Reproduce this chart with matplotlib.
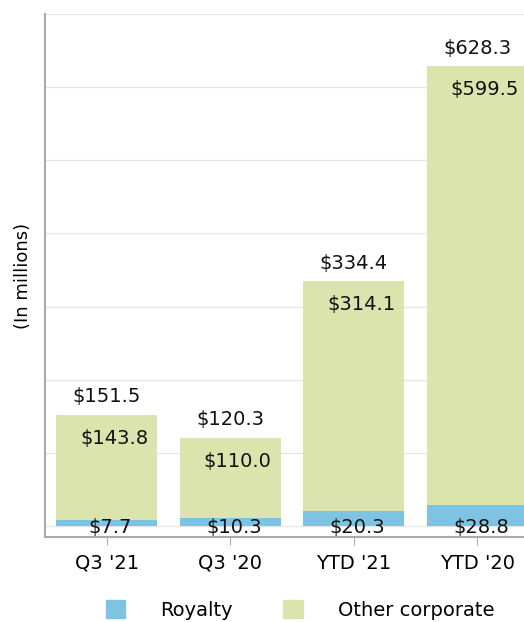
import matplotlib
matplotlib.use("Agg")
import matplotlib.pyplot as plt
from matplotlib.patches import Patch

categories = ["Q3 '21", "Q3 '20", "YTD '21", "YTD '20"]
royalty = [7.7, 10.3, 20.3, 28.8]
other_corporate = [143.8, 110.0, 314.1, 599.5]
totals = [151.5, 120.3, 334.4, 628.3]

blue = "#7ec4e2"
green = "#dce4ae"
FS = 14

fig = plt.figure(figsize=(5.24, 6.22), dpi=100)
W, H = 524, 622
left_px, right_px, top_px, bottom_px = 45, 539, 14, 537
ax = fig.add_axes([left_px / W, 1 - bottom_px / H, (right_px - left_px) / W, (bottom_px - top_px) / H])

x = list(range(len(categories)))
ax.bar(x, royalty, width=0.82, color=blue, zorder=2)
ax.bar(x, other_corporate, width=0.82, bottom=royalty, color=green, zorder=2)

for i in x:
    ax.text(i, totals[i] + 12, f"${totals[i]:.1f}", ha="center", va="bottom", fontsize=FS, color="#111")
    ax.text(i + 0.06, totals[i] - 19, f"${other_corporate[i]:.1f}", ha="center", va="top", fontsize=FS, color="#111")
    ax.text(i + 0.03, -2, f"${royalty[i]:.1f}", ha="center", va="center", fontsize=FS, color="#111")

ax.set_xlim(-0.5, 3.5)
ax.set_ylim(-15, 700)
ax.set_yticks(range(0, 701, 100))
ax.set_yticklabels([])
ax.tick_params(axis="y", length=0)
ax.grid(axis="y", color="#e6e6e6", linewidth=1, zorder=0)
ax.set_xticks(x)
ax.set_xticklabels(categories, fontsize=FS)
ax.tick_params(axis="x", length=6, color="#aaaaaa", pad=6)
for s in ["top", "right"]:
    ax.spines[s].set_visible(False)
for s in ["left", "bottom"]:
    ax.spines[s].set_color("#aaaaaa")
    ax.spines[s].set_linewidth(1.5)
ax.set_ylabel("(In millions)", fontsize=13, labelpad=6)

handles = [Patch(color=blue), Patch(color=green)]
fig.legend(handles, ["Royalty", "Other corporate"], loc="center", bbox_to_anchor=(300 / W, 1 - 610 / H),
           ncol=2, frameon=False, fontsize=FS, handlelength=1.0, handleheight=1.0,
           handletextpad=1.8, columnspacing=2.6)

fig.savefig("out.png", dpi=100)
